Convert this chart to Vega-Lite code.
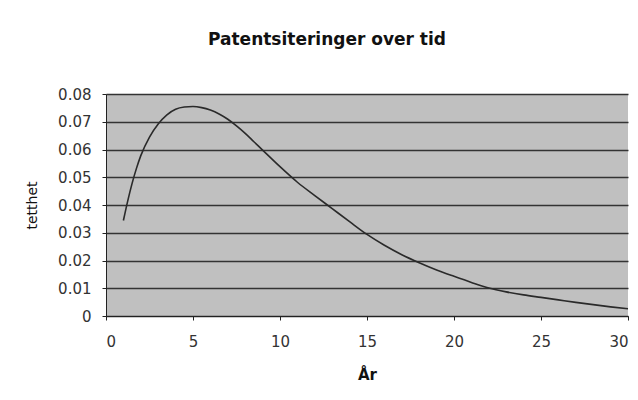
{
  "$schema": "https://vega.github.io/schema/vega-lite/v6.json",
  "width": 522,
  "height": 222,
  "autosize": {"type": "none"},
  "padding": {"left": 106, "top": 94, "right": 10, "bottom": 84},
  "background": "white",
  "title": {
    "text": "Patentsiteringer over tid",
    "font": "DejaVu Sans",
    "fontSize": 17,
    "fontWeight": "bold",
    "color": "#111",
    "anchor": "middle",
    "dx": -40,
    "offset": 38
  },
  "data": {
    "values": [
      {"ar": 1, "tetthet": 0.0344},
      {"ar": 1.25, "tetthet": 0.0415},
      {"ar": 1.5, "tetthet": 0.0478},
      {"ar": 1.75, "tetthet": 0.0532},
      {"ar": 2, "tetthet": 0.0578},
      {"ar": 2.5, "tetthet": 0.0645},
      {"ar": 3, "tetthet": 0.0692},
      {"ar": 3.5, "tetthet": 0.0725},
      {"ar": 4, "tetthet": 0.0745},
      {"ar": 4.5, "tetthet": 0.0753},
      {"ar": 5, "tetthet": 0.0755},
      {"ar": 5.5, "tetthet": 0.0751},
      {"ar": 6, "tetthet": 0.0742},
      {"ar": 6.5, "tetthet": 0.0728},
      {"ar": 7, "tetthet": 0.0709},
      {"ar": 7.5, "tetthet": 0.0685},
      {"ar": 8, "tetthet": 0.0658},
      {"ar": 8.5, "tetthet": 0.0628},
      {"ar": 9, "tetthet": 0.0598},
      {"ar": 10, "tetthet": 0.0538},
      {"ar": 11, "tetthet": 0.0482},
      {"ar": 12, "tetthet": 0.0434},
      {"ar": 13, "tetthet": 0.0387},
      {"ar": 14, "tetthet": 0.034},
      {"ar": 15, "tetthet": 0.0294},
      {"ar": 16, "tetthet": 0.0255},
      {"ar": 17, "tetthet": 0.0221},
      {"ar": 18, "tetthet": 0.0192},
      {"ar": 19, "tetthet": 0.0166},
      {"ar": 20, "tetthet": 0.0143},
      {"ar": 21, "tetthet": 0.0121},
      {"ar": 22, "tetthet": 0.0101},
      {"ar": 23, "tetthet": 0.0087},
      {"ar": 24, "tetthet": 0.0076},
      {"ar": 25, "tetthet": 0.0067},
      {"ar": 26, "tetthet": 0.0058},
      {"ar": 27, "tetthet": 0.0049},
      {"ar": 28, "tetthet": 0.0041},
      {"ar": 29, "tetthet": 0.0033},
      {"ar": 30, "tetthet": 0.0026}
    ]
  },
  "mark": {"type": "line", "interpolate": "monotone", "color": "#2a2a2a", "strokeWidth": 1.6},
  "encoding": {
    "x": {
      "field": "ar",
      "type": "quantitative",
      "scale": {"domain": [0, 30], "nice": false},
      "axis": {
        "title": "År",
        "values": [0, 5, 10, 15, 20, 25, 30],
        "grid": false,
        "titleFontWeight": "bold",
        "titleFontSize": 15,
        "titlePadding": 18,
        "labelFontSize": 15,
        "labelPadding": 14
      }
    },
    "y": {
      "field": "tetthet",
      "type": "quantitative",
      "scale": {"domain": [0, 0.08], "nice": false},
      "axis": {
        "title": "tetthet",
        "values": [0, 0.01, 0.02, 0.03, 0.04, 0.05, 0.06, 0.07, 0.08],
        "format": "~g",
        "grid": true,
        "gridColor": "#333",
        "gridWidth": 1.6,
        "titleFontWeight": "normal",
        "titleFontSize": 14,
        "titlePadding": 18,
        "labelFontSize": 15,
        "labelPadding": 11
      }
    }
  },
  "config": {
    "font": "DejaVu Sans",
    "view": {"fill": "#c0c0c0", "stroke": null},
    "axis": {
      "domainColor": "#222",
      "tickColor": "#222",
      "tickSize": 4,
      "labelColor": "#333",
      "titleColor": "#111",
      "labelFont": "DejaVu Sans",
      "titleFont": "DejaVu Sans"
    }
  }
}
